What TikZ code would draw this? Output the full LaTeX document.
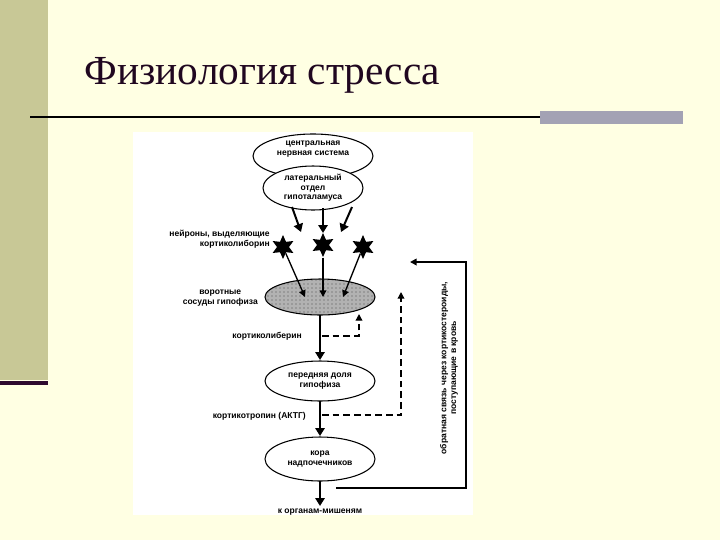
\documentclass[tikz,border=0pt]{standalone}
\usepackage{fontspec}
\setmainfont{Liberation Serif}
\newfontfamily\dsans{Liberation Sans}
\usetikzlibrary{arrows.meta,patterns,shapes.geometric}
\definecolor{bgy}{HTML}{FFFFE3}
\definecolor{olive}{HTML}{C8C896}
\definecolor{plum}{HTML}{2E0A2E}
\definecolor{bargray}{HTML}{A3A2B4}
\tikzset{
 lbl/.style={font=\dsans\bfseries\fontsize{6.4}{7.2}\selectfont,align=center,inner sep=0pt},
 arr/.style={-{Triangle[length=6pt,width=7pt]},line width=1.5pt},
 darr/.style={-{Triangle[length=5pt,width=5pt]},line width=1pt,dashed,dash pattern=on 5pt off 3pt},
 farr/.style={-{Triangle[length=5pt,width=5pt]},line width=1pt},
 neuron/.style={fill=black,star,star points=6,star point ratio=2.0,minimum size=18pt,inner sep=0pt}
}
\begin{document}
\begin{tikzpicture}[x=0.75pt,y=-0.75pt]
\fill[bgy] (0,0) rectangle (720,540);
\useasboundingbox (0,0) rectangle (720,540);
\fill[olive] (0,0) rectangle (48,380);
\fill[plum] (0,381) rectangle (48,385);
\draw[line width=1.2pt] (30,117) -- (540,117);
\fill[bargray] (540,111) rectangle (683,124);
\node[anchor=base west,font=\fontsize{31}{33}\selectfont,text=plum!70!black] (title) at (80,84) {Физиология стресса};
\fill[white] (133,132) rectangle (473,515);
\draw[thick,fill=white] (313,156) ellipse [x radius=60,y radius=22];
\node[lbl] (cnst) at (313,149) {центральная\\нервная система};
\draw[thick,fill=white] (313,188) ellipse [x radius=50,y radius=22];
\node[lbl] (lat) at (313,188) {латеральный\\отдел\\гипоталамуса};
\coordinate (l1) at (292,207); \coordinate (l2) at (323,208); \coordinate (l3) at (352,207);
\node[neuron] (s1) at (283,247) {};
\node[neuron] (s2) at (323,245) {};
\node[neuron] (s3) at (363,247) {};
\draw[arr] (l1) -- (301,232);
\draw[arr] (l2) -- (323,233);
\draw[arr] (l3) -- (341,232);
\node[lbl,align=right,anchor=east] (neur) at (270,239) {нейроны, выделяющие\\кортиколиборин};
\draw[thick,fill=gray!60] (320,297) ellipse [x radius=55,y radius=18];
\fill[pattern=dots,pattern color=black!70] (320,297) ellipse [x radius=54,y radius=17];
\coordinate (p1) at (305,297); \coordinate (p2) at (323,297); \coordinate (p3) at (343,297);
\draw[farr] (s1) -- (p1);
\draw[farr] (s2) -- (p2);
\draw[farr] (s3) -- (p3);
\node[lbl,anchor=east] (vor) at (258,298) {воротные\\сосуды гипофиза};
\coordinate (pb) at (320,315);
\draw[thick,fill=white] (320,381) ellipse [x radius=55,y radius=20];
\node[lbl] (antt) at (320,381) {передняя доля\\гипофиза};
\draw[arr] (pb) -- (320,360);
\node[lbl,anchor=east] (cl) at (302,336) {кортиколиберин};
\draw[darr] (322,336) -- (359,336) -- (359,314);
\draw[thick,fill=white] (320,459) ellipse [x radius=55,y radius=22];
\node[lbl] (cor) at (320,459) {кора\\надпочечников};
\draw[arr] (320,401) -- (320,436);
\node[lbl,anchor=east] (acth) at (306,416) {кортикотропин (АКТГ)};
\draw[darr] (322,415) -- (401,415) -- (401,292);
\draw[arr] (320,481) -- (320,506);
\node[lbl] (org) at (320,512) {к органам-мишеням};
\coordinate (fb0) at (336,488);
\draw[farr,line width=1.3pt] (fb0) -- (466,488) -- (466,262) -- (410,262);
\node[lbl,rotate=90] (fbt) at (449,368) {обратная связь через кортикостероиды,\\поступающие в кровь};
\end{tikzpicture}
\end{document}
